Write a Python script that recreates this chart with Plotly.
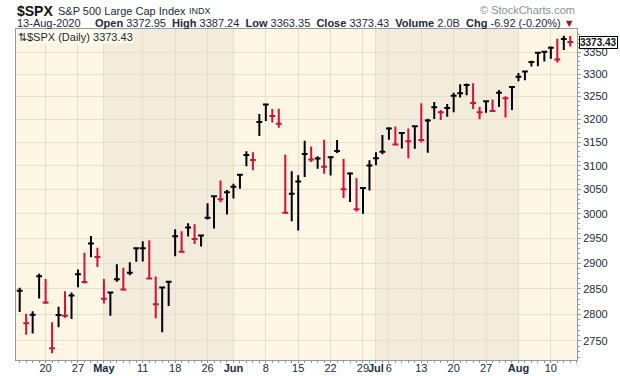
import math
import plotly.graph_objects as go

# ---------------- data (S&P 500 daily, 14-Apr-2020 .. 13-Aug-2020) ----------------
dates = [
    "2020-04-14", "2020-04-15", "2020-04-16", "2020-04-17", "2020-04-20", "2020-04-21", "2020-04-22",
    "2020-04-23", "2020-04-24", "2020-04-27", "2020-04-28", "2020-04-29", "2020-04-30",
    "2020-05-01", "2020-05-04", "2020-05-05", "2020-05-06", "2020-05-07", "2020-05-08", "2020-05-11",
    "2020-05-12", "2020-05-13", "2020-05-14", "2020-05-15", "2020-05-18", "2020-05-19", "2020-05-20",
    "2020-05-21", "2020-05-22", "2020-05-26", "2020-05-27", "2020-05-28", "2020-05-29",
    "2020-06-01", "2020-06-02", "2020-06-03", "2020-06-04", "2020-06-05", "2020-06-08", "2020-06-09",
    "2020-06-10", "2020-06-11", "2020-06-12", "2020-06-15", "2020-06-16", "2020-06-17", "2020-06-18",
    "2020-06-19", "2020-06-22", "2020-06-23", "2020-06-24", "2020-06-25", "2020-06-26", "2020-06-29",
    "2020-06-30",
    "2020-07-01", "2020-07-02", "2020-07-06", "2020-07-07", "2020-07-08", "2020-07-09", "2020-07-10",
    "2020-07-13", "2020-07-14", "2020-07-15", "2020-07-16", "2020-07-17", "2020-07-20", "2020-07-21",
    "2020-07-22", "2020-07-23", "2020-07-24", "2020-07-27", "2020-07-28", "2020-07-29", "2020-07-30",
    "2020-07-31",
    "2020-08-03", "2020-08-04", "2020-08-05", "2020-08-06", "2020-08-07", "2020-08-10", "2020-08-11",
    "2020-08-12", "2020-08-13",
]
opens = [
    2805.10, 2795.64, 2799.34, 2842.43, 2845.62, 2784.81, 2787.89, 2810.42, 2812.64, 2854.65, 2909.96,
    2918.46, 2930.91,
    2869.09, 2815.01, 2868.88, 2883.14, 2878.26, 2908.83, 2915.46, 2939.50, 2865.86, 2794.54, 2829.95,
    2913.86, 2948.59, 2953.63, 2969.95, 2948.05, 3004.08, 3015.65, 3046.61, 3025.17,
    3038.78, 3064.78, 3098.90, 3111.56, 3163.84, 3199.92, 3213.32, 3213.42, 3123.53, 3071.04, 2993.76,
    3131.00, 3136.13, 3101.64, 3140.29, 3094.42, 3138.70, 3114.40, 3046.60, 3073.20, 3018.59, 3050.20,
    3105.92, 3143.64, 3155.29, 3166.44, 3153.07, 3176.17, 3152.47, 3205.08, 3141.11, 3225.98, 3208.36,
    3224.21, 3224.29, 3268.52, 3254.86, 3271.64, 3218.58, 3219.84, 3234.27, 3227.22, 3231.76, 3270.45,
    3288.26, 3289.92, 3317.37, 3323.17, 3340.05, 3356.04, 3370.34, 3355.46, 3372.95,
]
highs = [
    2851.85, 2801.88, 2806.51, 2879.22, 2868.98, 2785.54, 2815.10, 2844.90, 2842.71, 2887.72, 2921.15,
    2954.86, 2930.91,
    2869.09, 2844.24, 2898.23, 2891.11, 2901.92, 2932.16, 2944.25, 2945.82, 2874.14, 2852.80, 2865.01,
    2968.09, 2964.21, 2980.29, 2978.50, 2956.76, 3021.72, 3036.25, 3068.67, 3049.17,
    3062.18, 3081.07, 3130.94, 3128.91, 3211.72, 3233.13, 3222.71, 3223.27, 3123.53, 3088.42, 3079.76,
    3153.45, 3141.16, 3120.00, 3155.53, 3120.92, 3154.90, 3115.01, 3086.25, 3073.73, 3053.89, 3111.51,
    3128.44, 3165.81, 3182.59, 3184.15, 3171.80, 3179.78, 3186.82, 3235.32, 3200.95, 3238.28, 3220.39,
    3233.52, 3258.61, 3277.29, 3279.32, 3279.99, 3227.26, 3241.43, 3243.72, 3264.74, 3250.92, 3272.17,
    3302.73, 3306.84, 3330.77, 3351.03, 3352.54, 3363.29, 3381.01, 3387.89, 3387.24,
]
lows = [
    2805.10, 2761.54, 2764.32, 2830.88, 2820.43, 2727.10, 2775.95, 2794.26, 2791.76, 2852.89, 2860.71,
    2912.16, 2892.47,
    2821.61, 2797.85, 2863.55, 2847.65, 2876.48, 2902.88, 2903.44, 2869.59, 2793.15, 2766.64, 2816.78,
    2913.86, 2922.35, 2953.63, 2938.57, 2933.59, 2988.17, 2969.75, 3023.40, 2998.61,
    3031.54, 3051.64, 3098.90, 3090.41, 3163.84, 3196.00, 3193.11, 3181.49, 2999.49, 2984.47, 2965.66,
    3076.06, 3108.03, 3093.51, 3083.11, 3079.39, 3127.12, 3032.13, 3024.01, 3004.63, 2999.74, 3047.83,
    3101.17, 3124.52, 3155.29, 3142.93, 3136.53, 3115.70, 3136.22, 3149.43, 3127.66, 3200.76, 3198.59,
    3205.65, 3215.16, 3247.77, 3253.10, 3222.66, 3200.05, 3214.25, 3216.17, 3227.22, 3204.13, 3220.26,
    3284.53, 3286.37, 3317.37, 3318.14, 3328.72, 3335.44, 3326.44, 3355.46, 3363.35,
]
closes = [
    2846.06, 2783.36, 2799.55, 2874.56, 2823.16, 2736.56, 2799.31, 2797.80, 2836.74, 2878.48, 2863.39,
    2939.51, 2912.43,
    2830.71, 2842.74, 2868.44, 2848.42, 2881.19, 2929.80, 2930.19, 2870.12, 2820.00, 2852.50, 2863.70,
    2953.91, 2922.94, 2971.61, 2948.51, 2955.45, 2991.77, 3036.13, 3029.73, 3044.31,
    3055.73, 3080.82, 3122.87, 3112.35, 3193.93, 3232.39, 3207.18, 3190.14, 3002.10, 3041.31, 3066.59,
    3124.74, 3113.49, 3115.34, 3097.74, 3117.86, 3131.29, 3050.33, 3083.76, 3009.05, 3053.24, 3100.29,
    3115.86, 3130.01, 3179.72, 3145.32, 3169.94, 3152.05, 3185.04, 3155.22, 3197.52, 3226.56, 3215.57,
    3224.73, 3251.84, 3257.30, 3276.02, 3235.66, 3215.63, 3239.41, 3218.44, 3258.44, 3246.22, 3271.12,
    3294.61, 3306.51, 3327.77, 3349.16, 3351.28, 3360.47, 3333.69, 3380.35, 3373.43,
]
volume_text = "2.0B"

tick_dates = ["2020-04-20", "2020-04-27", "2020-05-01", "2020-05-11", "2020-05-18", "2020-05-26",
              "2020-06-01", "2020-06-08", "2020-06-15", "2020-06-22", "2020-06-29", "2020-07-01",
              "2020-07-06", "2020-07-13", "2020-07-20", "2020-07-27", "2020-08-03", "2020-08-10"]
tick_labels = ["20", "27", "<b>May</b>", "11", "18", "26", "<b>Jun</b>", "8", "15", "22", "29",
               "<b>Jul</b>", "6", "13", "20", "27", "<b>Aug</b>", "10"]
y_ticks = [2750, 2800, 2850, 2900, 2950, 3000, 3050, 3100, 3150, 3200, 3250, 3300, 3350]
y_minor = list(range(2720, 3400, 10))

# ---------------- styling ----------------
FONT = "Liberation Sans, Arial, sans-serif"
TXT = "#1b2b38"
UP = "#000000"
DOWN = "#d2103c"
AXIS = "#8e9ca1"
GRID = "#e8dfca"
BG = "#fdf6e4"
SHADE = "#f3ecdc"

n = len(dates)
xi = list(range(n))
up = [True] + [closes[i] >= closes[i - 1] for i in range(1, n)]

fig = go.Figure()
for flag, col in [(True, UP), (False, DOWN)]:
    idx = [i for i in xi if up[i] == flag]
    fig.add_trace(go.Ohlc(
        x=idx,
        open=[closes[i] for i in idx],
        high=[highs[i] for i in idx],
        low=[lows[i] for i in idx],
        close=[closes[i] for i in idx],
        increasing=dict(line=dict(color=col, width=2)),
        decreasing=dict(line=dict(color=col, width=2)),
        tickwidth=0.45,
        hoverinfo="skip",
        showlegend=False,
    ))

# alternate month shading (May, July)
month_start = [i for i in xi if i == 0 or dates[i][5:7] != dates[i - 1][5:7]]
bounds = month_start + [n + 5]
shapes = []
for k in range(len(month_start)):
    if k % 2 == 1:
        shapes.append(dict(type="rect", xref="x", yref="paper", x0=bounds[k], x1=bounds[k + 1],
                           y0=0, y1=1, fillcolor=SHADE, line=dict(width=0), layer="below"))

tickvals = [dates.index(d) for d in tick_dates]

ylo, yhi = 2714.5, 3403.7
fig.update_layout(
    width=620, height=376,
    margin=dict(l=16, r=43, t=29, b=16, autoexpand=False),
    paper_bgcolor="#ffffff", plot_bgcolor=BG,
    font=dict(family=FONT, size=11, color=TXT),
    shapes=shapes,
    showlegend=False,
    hovermode=False,
    xaxis=dict(
        range=[-0.57, 86.04], rangeslider=dict(visible=False), automargin=False,
        tickmode="array", tickvals=tickvals, ticktext=tick_labels, tickangle=0,
        ticklabelstandoff=-4,
        showgrid=True, gridcolor=GRID, gridwidth=1,
        showline=True, linecolor=AXIS, linewidth=1, mirror=True,
        ticks="outside", ticklen=2, tickcolor=AXIS,
        minor=dict(tickmode="linear", tick0=0, dtick=1, ticks="outside", ticklen=2,
                   tickcolor=AXIS, showgrid=False),
        tickfont=dict(size=11, color=TXT), zeroline=False, fixedrange=True,
    ),
    yaxis=dict(
        type="log", range=[math.log10(ylo), math.log10(yhi)], side="right", automargin=False,
        tickmode="array", tickvals=y_ticks, ticktext=[str(v) for v in y_ticks],
        showgrid=True, gridcolor=GRID, gridwidth=1,
        showline=True, linecolor=AXIS, linewidth=1, mirror=True,
        ticks="outside", ticklen=3, tickcolor=AXIS,
        minor=dict(tickmode="array", tickvals=y_minor, ticks="outside", ticklen=2,
                   tickcolor=AXIS, showgrid=False),
        tickfont=dict(size=11, color=TXT), zeroline=False, fixedrange=True,
    ),
)

last = n - 1
chg = closes[last] - closes[last - 1]
pct = chg / closes[last - 1] * 100
d = dates[last]
months = {"08": "Aug"}
date_txt = f"{int(d[8:10])}-{months.get(d[5:7], d[5:7])}-{d[:4]}"

ann = []
ann.append(dict(text="<b>$SPX</b>", x=0, y=1, xref="paper", yref="paper", xanchor="left",
                yanchor="middle", xshift=-1, yshift=18, showarrow=False,
                font=dict(size=14, color="#111111")))
ann.append(dict(text="S&P 500 Large Cap Index", x=0, y=1, xref="paper", yref="paper", xanchor="left",
                yanchor="middle", xshift=40, yshift=18, showarrow=False, font=dict(size=11, color=TXT)))
ann.append(dict(text="INDX", x=0, y=1, xref="paper", yref="paper", xanchor="left",
                yanchor="middle", xshift=171, yshift=18, showarrow=False, font=dict(size=9, color=TXT)))
ann.append(dict(text="© StockCharts.com", x=1, y=1, xref="paper", yref="paper", xanchor="right",
                yanchor="middle", yshift=19, showarrow=False, font=dict(size=11, color="#8a9196")))
ann.append(dict(text=date_txt, x=0, y=1, xref="paper", yref="paper", xanchor="left",
                yanchor="middle", xshift=-1, yshift=6, showarrow=False, font=dict(size=11, color=TXT)))
line2 = (f"<b>Open</b> {opens[last]:.2f}  <b>High</b> {highs[last]:.2f}  <b>Low</b> {lows[last]:.2f}  "
         f"<b>Close</b> {closes[last]:.2f}  <b>Volume</b> {volume_text}  "
         f"<b>Chg</b> {chg:.2f} ({pct:.2f}%) <span style='color:#a0102a'>▼</span>")
ann.append(dict(text=line2, x=1, y=1, xref="paper", yref="paper", xanchor="right",
                yanchor="middle", yshift=6, showarrow=False, font=dict(size=11, color=TXT)))
ann.append(dict(text=f"⇅$SPX (Daily) {closes[last]:.2f}", x=0, y=1, xref="paper", yref="paper",
                xanchor="left", yanchor="top", xshift=1, yshift=-1, showarrow=False,
                bgcolor="#fffcec", borderpad=0, font=dict(size=11, color=TXT)))
ann.append(dict(text=f"<b>{closes[last]:.2f}</b>", x=1, y=math.log10(closes[last]), xref="paper",
                yref="y", xanchor="left", yanchor="middle", xshift=2, showarrow=False,
                bgcolor="#ffffff", bordercolor="#000000", borderwidth=1, borderpad=0,
                font=dict(size=10, color="#111111")))
fig.update_layout(annotations=ann)

fig.write_html("out.html", config={"displayModeBar": False, "staticPlot": True},
               post_script="document.body.style.margin='0';document.body.style.padding='0';")
